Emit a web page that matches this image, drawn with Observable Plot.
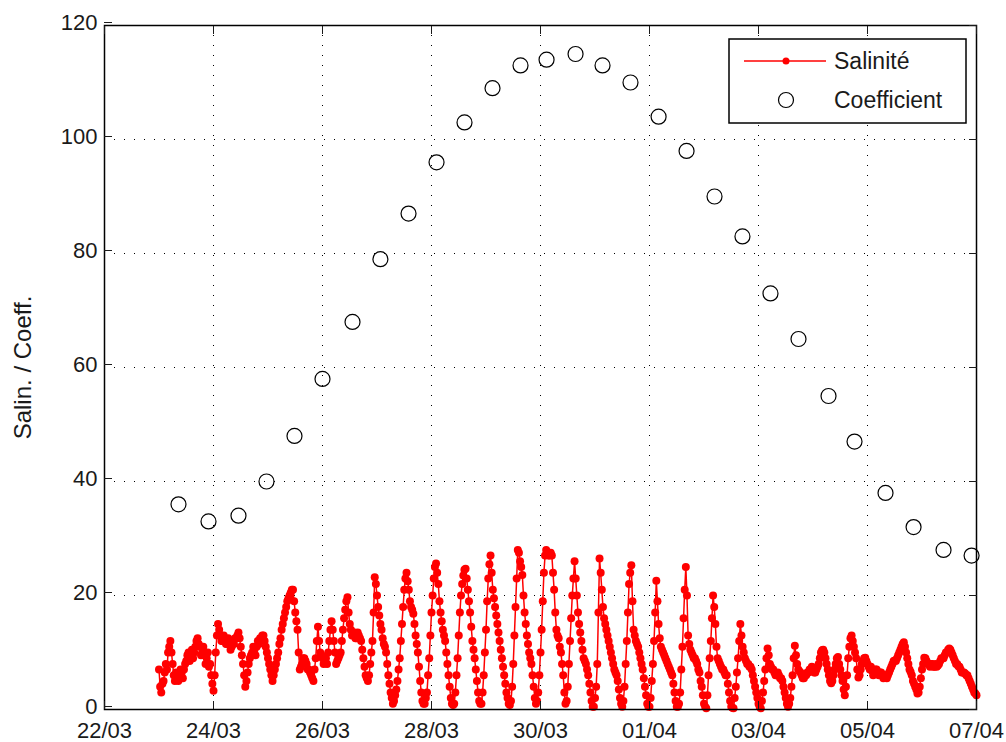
<!DOCTYPE html>
<html>
<head>
<meta charset="utf-8">
<script src="https://cdn.jsdelivr.net/npm/d3@7"></script>
<script src="https://cdn.jsdelivr.net/npm/@observablehq/plot@0.6"></script>
<style>
  html, body { margin: 0; padding: 0; background: #fff; }
  #chart { width: 1006px; height: 742px; }
</style>
</head>
<body>
<div id="chart"></div>
<script>
// Tidal coefficient at each high water (UTC)
const coeffTimes = [
  "2013-03-23T08:35Z", "2013-03-23T21:48Z", "2013-03-24T11:00Z", "2013-03-24T23:20Z",
  "2013-03-25T11:40Z", "2013-03-26T00:00Z", "2013-03-26T13:13Z", "2013-03-27T01:30Z",
  "2013-03-27T13:53Z", "2013-03-28T02:13Z", "2013-03-28T14:32Z", "2013-03-29T02:52Z",
  "2013-03-29T15:12Z", "2013-03-30T02:40Z", "2013-03-30T15:26Z", "2013-03-31T03:19Z",
  "2013-03-31T15:38Z", "2013-04-01T04:00Z", "2013-04-01T16:19Z", "2013-04-02T04:38Z",
  "2013-04-02T16:56Z", "2013-04-03T05:17Z", "2013-04-03T17:37Z", "2013-04-04T06:50Z",
  "2013-04-04T18:17Z", "2013-04-05T07:56Z", "2013-04-05T20:17Z", "2013-04-06T09:29Z",
  "2013-04-06T21:50Z"
];
const coeffValues = [
  36, 33, 34, 40, 48, 58, 68, 79, 87, 96, 103, 109, 113, 114, 115,
  113, 110, 104, 98, 90, 83, 73, 65, 55, 47, 38, 32, 28, 27
];

// Salinity, half-hourly readings from 23/03 00:00 UTC (one row per day)
const salStart = "2013-03-23T00:00Z";
const salStepMinutes = 30;
const salValues = [
  7, 4, 3, 4.5, 5, 6.5, 8, 7, 10, 11, 12, 10, 8, 6, 5, 6.5, 5.5, 5, 6, 7, 6.5, 5.5, 7, 8,
  8.5, 9.5, 10, 8.5, 9.5, 10.5, 9, 10, 11, 12, 12.5, 11.5, 11, 9.5, 10, 11, 9.5, 8, 9, 10, 7.5, 8, 6, 4.5,
  3.3, 6, 10, 13, 15, 14, 13, 12, 12, 13, 12.5, 11.5, 11.5, 12.5, 12, 10.5, 11, 12, 11.5, 12.5, 12.5, 13, 13.5, 12.5,
  11, 9.5, 8, 6, 4, 5, 6.5, 8, 9, 9.5, 10, 11, 10.5, 9.5, 11, 12, 11.5, 12.5, 12.5, 13, 13, 12, 11, 10,
  9, 8, 7, 6, 5, 6, 7, 8, 9, 10, 11.5, 12.5, 14, 15, 16, 17, 18, 19, 19.5, 20, 20.5, 21, 21, 19,
  17, 15.5, 14, 10, 7, 7.5, 8, 9, 9, 8.5, 8, 7, 7, 6.5, 6, 5.5, 5, 7, 9, 12, 14.5, 12, 10, 9.5,
  9, 8, 8.5, 9, 8, 10, 12, 14, 15.5, 14, 12, 10, 8, 8.5, 9, 9.5, 10, 12, 14, 16, 17.5, 19, 19.7, 17,
  15, 14, 13, 13.5, 13.5, 12.5, 12.5, 13.5, 13, 12.5, 12, 10.5, 9, 7.5, 6, 5.5, 5, 6, 8, 10, 12, 17, 23.2, 22,
  20, 18, 16.5, 15, 14, 12.5, 11.5, 11, 10, 8, 6, 4.5, 3, 2, 1, 1.5, 2.5, 3.5, 5, 7, 9, 12, 15, 18,
  21, 23, 24, 22.5, 21, 19, 18, 17.5, 16.8, 15, 13, 11.5, 10, 7.5, 5, 3, 1.5, 1, 1, 2, 3, 6, 9, 13,
  17, 20, 23, 25, 25.6, 24, 22, 19, 17, 15.5, 14, 13, 12, 10, 8, 6, 4, 2, 1, 0.8, 1, 3, 6, 9,
  13, 17, 20, 22, 23.5, 24.5, 24.7, 23, 21, 19, 17, 14.5, 12, 10.5, 9, 7, 5, 3, 1.5, 1, 1, 3, 6, 10,
  14, 19, 23, 25.5, 27, 24, 21, 19.5, 18, 16.5, 15, 13.5, 12, 10.5, 9, 7.5, 6, 4.5, 3, 2, 1, 0.8, 1.5, 4,
  8, 13, 18, 23, 28, 27.5, 26, 25, 23.6, 20, 17, 15, 13, 11.5, 10, 9, 8, 6, 4, 2, 1, 1.5, 3, 6,
  10, 14, 19, 24, 27, 28, 27.5, 27, 27, 27.5, 27, 24, 21, 17, 14, 13, 12.5, 11, 10, 8, 6, 3, 1, 1.5,
  4, 8, 12, 16, 20, 23, 26, 23, 20, 17, 15, 13.5, 12, 10.5, 9, 8.5, 8, 7, 6, 4.5, 3, 1.5, 0.5, 0.5,
  2, 4, 8, 17, 26.5, 24, 21, 18, 16, 15, 14, 13, 12, 11, 10, 9, 8, 7, 6.5, 6, 5, 3.5, 2, 1,
  0.5, 1.5, 4, 8, 12, 17, 22, 24, 25.3, 19, 14, 13, 12, 11.5, 11, 10, 9, 8, 7, 5.5, 4, 2.5, 1, 0.5,
  0.5, 2, 5, 8, 12, 17, 22.6, 19, 15, 12.5, 11, 10.5, 10, 9.5, 9, 8.5, 8, 7.5, 7, 6.5, 6, 4.5, 3, 1.5,
  0.5, 0.5, 1, 3, 7, 11, 16, 21, 25, 20, 13, 11.5, 10.5, 10, 9.5, 9, 9, 8.5, 8, 7, 6.5, 5, 4, 2.5,
  1, 0.5, 0.2, 2.5, 6, 9, 12, 16, 20, 18, 15, 11, 9, 8.5, 8, 7.5, 7, 7, 6.5, 6, 6, 4.5, 3, 1.5,
  0.5, 0.3, 0.2, 2, 4, 6.5, 9, 12, 15, 13, 11, 10, 9, 8.5, 8, 8, 7.5, 7.5, 7, 6, 5, 4, 3, 2,
  1, 0.5, 0.2, 1.5, 3, 5, 7, 9, 10.7, 9.5, 8, 7.5, 7, 7, 6.5, 6, 6, 6.5, 6, 5.5, 5.5, 5, 4, 3,
  2, 1, 0.5, 1, 2, 4, 6, 9, 11.2, 9.5, 8, 7, 6.7, 6.5, 6, 5.5, 5.5, 6, 6, 6.5, 6.5, 7, 7, 7.5,
  7, 6.5, 6.5, 7, 7.5, 8, 9, 10, 10.4, 10.5, 10, 9, 8, 7, 6, 5, 4.6, 5, 6, 7, 8, 9, 9.2, 8,
  7, 6, 5, 3.5, 2.5, 4, 6, 9, 11, 12.5, 13, 12, 11, 10, 9, 7, 5.6, 6, 7, 8, 8.5, 9, 9.1, 8.5,
  8, 7.5, 7, 7.5, 6.8, 6, 6.5, 7, 7, 6.5, 6, 6.5, 6.5, 6, 5.5, 6, 6, 5.5, 6, 6.5, 7, 7.5, 8, 8.5,
  8.6, 8.5, 9, 9.5, 10, 10.5, 11, 11.5, 11.8, 11, 10, 9, 8, 7, 6.6, 6, 5, 4.5, 4, 3.5, 2.8, 3, 4, 5.5,
  7, 8, 9.1, 9, 8.5, 8, 8, 7.5, 8, 8, 7.5, 7.5, 8, 7.5, 7.7, 8, 8.5, 9, 9, 9, 9.5, 10, 10, 10.5,
  10.7, 10.5, 10, 9.5, 9, 8.5, 8, 8, 7.6, 7.5, 7, 6.5, 6.5, 6.5, 6.3, 6, 6, 5.5, 5, 4.5, 4, 3.5, 3, 2.8,
  2.5
];

// Axis ticks
const xTicks = [
  "2013-03-22", "2013-03-24", "2013-03-26", "2013-03-28", "2013-03-30",
  "2013-04-01", "2013-04-03", "2013-04-05", "2013-04-07"
];
const yTicks = [0, 20, 40, 60, 80, 100, 120];

// Legend and axis labels
const legendLabels = ["Salinité", "Coefficient"];
const yLabel = "Salin. / Coeff.";

const width = 1006, height = 742;
const margin = { top: 25, right: 30, bottom: 33, left: 104 };
const minute = 60e3;

const salinity = salValues.map((v, i) => ({ t: new Date(+new Date(salStart) + i * salStepMinutes * minute), v }));
const coefficient = coeffTimes.map((t, i) => ({ t: new Date(t), v: coeffValues[i] }));
const xt = xTicks.map(d => new Date(d));

const grid = { stroke: "#000", strokeOpacity: 1, strokeWidth: 1, strokeDasharray: "1,9" };
const font = "'Liberation Sans', Arial, sans-serif";

const plot = Plot.plot({
  width, height,
  marginTop: margin.top, marginRight: margin.right,
  marginBottom: margin.bottom, marginLeft: margin.left,
  x: { type: "utc", domain: [xt[0], xt[xt.length - 1]] },
  y: { domain: [0, 120] },
  style: {
    fontFamily: font,
    fontSize: "22px",
    color: "#1a1a1a",
    background: "#fff",
    overflow: "visible"
  },
  marks: [
    Plot.gridX({ ticks: xt, ...grid }),
    Plot.gridY({ ticks: yTicks, ...grid }),
    Plot.line(salinity, { x: "t", y: "v", stroke: "#ff0000", strokeWidth: 1.5 }),
    Plot.dot(salinity, { x: "t", y: "v", r: 4, fill: "#ff0000" }),
    Plot.dot(coefficient, { x: "t", y: "v", r: 7.5, stroke: "#000", strokeWidth: 1.2 }),
    Plot.frame({ stroke: "#000", strokeWidth: 1.5 }),
    Plot.axisX({ ticks: xt, anchor: "bottom", tickSize: -8, tickPadding: 21,
                 tickFormat: d3.utcFormat("%d/%m"), label: null }),
    Plot.axisX({ ticks: xt, anchor: "top", tickSize: -8, tickFormat: () => "", label: null }),
    Plot.axisY({ ticks: yTicks, anchor: "left", tickSize: -8, tickPadding: 15, dy: -3, label: null }),
    Plot.axisY({ ticks: yTicks, anchor: "right", tickSize: -8, tickFormat: () => "", label: null }),
    // Vertical axis title, centred on the frame
    Plot.text([yLabel], { frameAnchor: "left", rotate: -90, dx: -81, fontSize: 24,
                          textAnchor: "middle", lineAnchor: "middle", fill: "#1a1a1a" })
  ]
});

// Legend box in the top-right corner of the frame
const lw = 237, lh = 84;
const lx = width - margin.right - 10 - lw, ly = margin.top + 14;
const g = d3.select(plot).append("g")
  .attr("transform", `translate(${lx},${ly})`)
  .attr("font-family", font)
  .attr("font-size", 23)
  .attr("text-anchor", "start")
  .attr("fill", "#1a1a1a");
g.append("rect").attr("width", lw).attr("height", lh)
  .attr("fill", "#fff").attr("stroke", "#000").attr("stroke-width", 1.5);
g.append("line").attr("x1", 15).attr("x2", 97).attr("y1", 22).attr("y2", 22)
  .attr("stroke", "#ff0000").attr("stroke-width", 1.5);
g.append("circle").attr("cx", 57).attr("cy", 22).attr("r", 3.5).attr("fill", "#ff0000");
g.append("text").attr("x", 105).attr("y", 22).attr("dy", "0.35em").text(legendLabels[0]);
g.append("circle").attr("cx", 57).attr("cy", 61).attr("r", 7.5)
  .attr("fill", "none").attr("stroke", "#000").attr("stroke-width", 1.2);
g.append("text").attr("x", 105).attr("y", 61).attr("dy", "0.35em").text(legendLabels[1]);

document.getElementById("chart").append(plot);
</script>
</body>
</html>
